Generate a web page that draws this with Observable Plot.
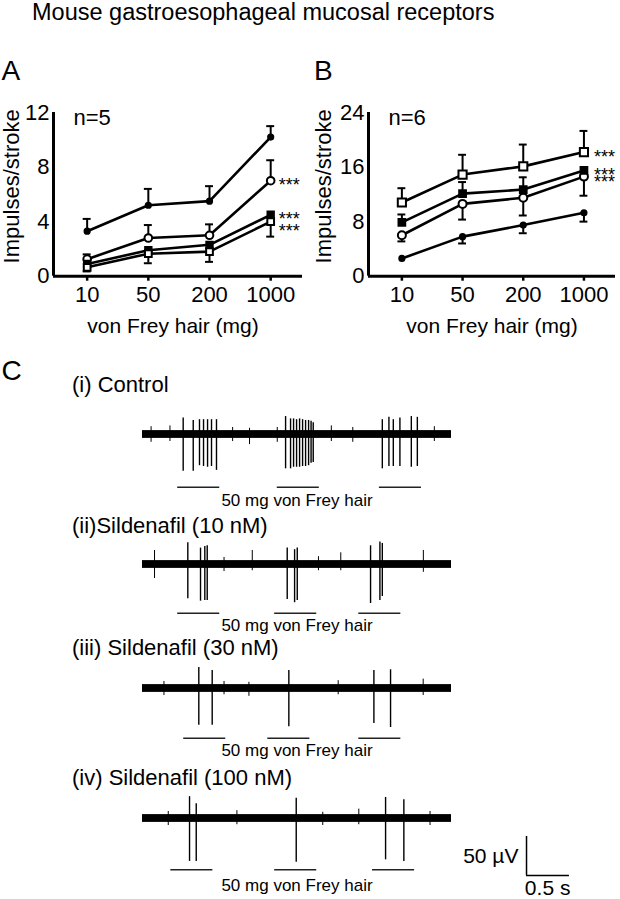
<!DOCTYPE html>
<html><head><meta charset="utf-8">
<script src="https://cdn.jsdelivr.net/npm/d3@7"></script>
<script src="https://cdn.jsdelivr.net/npm/@observablehq/plot@0.6"></script>
<style>
html,body{margin:0;padding:0;background:#fff;}
#fig{position:relative;width:620px;height:899px;overflow:hidden;background:#fff;font-family:"Liberation Sans",Arial,Helvetica,sans-serif;}
#fig > svg{position:absolute;overflow:visible;}
</style></head><body><div id="fig"></div>
<script>
// ---------- data ----------
const doses = ["10", "50", "200", "1000"];

// Panel A (n=5)
const aFilledCircle = [3.3, 5.2, 5.5, 10.2];
const aFilledCircleErr = [4.2, 6.4, 6.6, 11.0];
const aOpenCircle = [1.25, 2.8, 3.0, 7.0];
const aOpenCircleErr = [1.6, 3.75, 3.8, 8.5];
const aFilledSquare = [0.9, 1.9, 2.3, 4.5];
const aOpenSquare = [0.65, 1.65, 1.8, 4.0];
const aOpenSquareErr = [0.35, 0.95, 1.05, 2.9];

// Panel B (n=6)
const bOpenSquare = [10.8, 14.9, 16.1, 18.2];
const bOpenSquareErr = [12.9, 17.8, 19.3, 21.3];
const bFilledSquare = [7.9, 12.1, 12.7, 15.5];
const bFilledSquareErr = [9.05, 13.8, 14.5, 15.5];
const bOpenCircle = [6.0, 10.6, 11.5, 14.6];
const bOpenCircleErr = [5.1, 8.3, 8.9, 11.8];
const bFilledCircle = [2.6, 5.8, 7.5, 9.3];
const bFilledCircleErr = [2.6, 4.8, 6.3, 8.0];

const yTicksA = [0, 4, 8, 12];
const yTicksB = [0, 8, 16, 24];

// Panel C : spikes (time in s, trough and peak in µV)
const ctrlSpikeT  = [0.474, 0.591, 0.664, 0.711, 0.758, 0.804, 0.862, 1.667, 1.725, 1.760, 1.795, 1.830, 1.865, 1.900, 1.935, 1.964, 1.989, 2.794, 2.871, 2.922, 2.999, 3.132, 3.202];
const ctrlSpikeLo = [-47, -47, -40, -41, -42, -41, -46, -44, -44, -42, -42, -42, -41, -41, -40, -37, -36, -44, -41, -41, -41, -42, -41];
const ctrlSpikeHi = [21, 18, 19, 19, 19, 19, 19, 23, 20, 20, 19, 20, 19, 18, 18, 17, 15, 19, 22, 19, 21, 23, 22];
const ctrlNoiseT  = [0.10, 0.32, 1.05, 1.247, 1.57, 2.20, 2.45, 3.40];
const ctrlNoiseLo = [-10, -9, -9, -13, -10, -9, -10, -9];
const ctrlNoiseHi = [10, 11, 9, 8, 9, 11, 9, 10];
const ctrlStim = [0.41, 1.57, 2.76];

const s10SpikeT  = [0.528, 0.676, 0.726, 0.754, 1.686, 1.772, 1.803, 2.657, 2.766, 2.794];
const s10SpikeLo = [-44, -47, -46, -46, -45, -49, -46, -50, -46, -41];
const s10SpikeHi = [28, 21, 23, 24, 21, 19, 21, 24, 29, 27];
const s10NoiseT  = [0.14, 0.95, 1.279, 2.05, 2.31, 3.272];
const s10NoiseLo = [-18, -9, -8, -8, -8, -10];
const s10NoiseHi = [18, 9, 18, 10, 15, 18];
const s10Stim = [0.41, 1.54, 2.52];

const s30SpikeT  = [0.656, 0.812, 1.705, 2.696, 2.890];
const s30SpikeLo = [-47, -47, -49, -45, -50];
const s30SpikeHi = [27, 23, 23, 23, 24];
const s30NoiseT  = [0.25, 0.95, 1.24, 2.28, 3.27];
const s30NoiseLo = [-9, -8, -10, -8, -9];
const s30NoiseHi = [9, 9, 8, 10, 12];
const s30Stim = [0.48, 1.46, 2.52];

const s100SpikeT  = [0.548, 0.626, 1.791, 2.832, 3.045];
const s100SpikeLo = [-55, -55, -56, -53, -55];
const s100SpikeHi = [28, 19, 26, 27, 24];
const s100NoiseT  = [0.30, 1.10, 2.10, 2.52, 3.35];
const s100NoiseLo = [-9, -8, -9, -8, -9];
const s100NoiseHi = [9, 10, 8, 12, 9];
const s100Stim = [0.33, 1.54, 2.68];

const traceLabels = ["(i) Control", "(ii)Sildenafil (10 nM)", "(iii) Sildenafil (30 nM)", "(iv) Sildenafil (100 nM)"];
const stimText = "50 mg von Frey hair";
const recordDuration = 3.6;   // s
const stimDuration = 0.49;    // s

// ---------- drawing ----------
const FONT = '"Liberation Sans", Arial, Helvetica, sans-serif';
const fig = document.getElementById("fig");
function place(el, left, top) {
  el.style.position = "absolute";
  el.style.left = left + "px";
  el.style.top = top + "px";
  fig.appendChild(el);
}

const xDomain = [-0.55, 3.52];

function drawPanel(o) {
  const marks = [
    Plot.axisX({ticks: [0, 1, 2, 3], tickFormat: i => doses[i], tickSize: 5, tickPadding: 5, strokeWidth: 2.5, label: null, fontSize: 22}),
    Plot.axisY({ticks: o.yTicks, tickSize: 0, tickPadding: 4, label: null, fontSize: 22}),
    Plot.ruleY([0], {strokeWidth: 3}),
    Plot.ruleX([xDomain[0]], {y1: d => 0, y2: d => o.yMax, strokeWidth: 3})
  ];
  const rowsOf = s => s.values.map((v, i) => ({i, v, e: s.err ? s.err[i] : null}));
  for (const s of o.series) marks.push(Plot.line(rowsOf(s), {x: "i", y: "v", stroke: "black", strokeWidth: 2.6}));
  for (const s of o.series) {
    if (!s.err) continue;
    const rows = rowsOf(s).filter(d => d.e !== d.v);
    marks.push(Plot.ruleX(rows, {x: "i", y1: "v", y2: "e", strokeWidth: 2}));
    marks.push(Plot.ruleY(rows, {y: "e", x1: d => d.i - 0.065, x2: d => d.i + 0.065, strokeWidth: 2}));
  }
  for (const s of o.series) {
    marks.push(Plot.dot(rowsOf(s), {x: "i", y: "v", symbol: s.symbol, r: s.r, fill: s.fill, stroke: "black", strokeWidth: 2}));
  }
  for (const s of o.series) {
    if (!s.stars) continue;
    marks.push(Plot.text([{i: 3, v: s.values[3]}], {x: "i", y: "v", text: d => s.stars, textAnchor: "start", dx: o.starsDx, dy: s.starDy, fontSize: 18}));
  }
  marks.push(Plot.text([o.nLabel], {frameAnchor: "top-left", text: d => d, textAnchor: "start", lineAnchor: "top", dx: 20, dy: -3, fontSize: 22}));
  marks.push(Plot.text(["Impulses/stroke"], {frameAnchor: "left", text: d => d, rotate: -90, textAnchor: "middle", lineAnchor: "middle", dx: o.yLabelDx, dy: -8, fontSize: 22}));
  marks.push(Plot.text(["von Frey hair (mg)"], {frameAnchor: "bottom", text: d => d, textAnchor: "middle", lineAnchor: "middle", dx: o.xLabelDx, dy: 50.5, fontSize: 21}));
  const svg = Plot.plot({
    width: 310, height: 264,
    marginLeft: o.marginLeft, marginRight: o.marginRight, marginTop: 26, marginBottom: 74.3,
    x: {domain: xDomain, axis: null},
    y: {domain: [0, o.yMax], axis: null},
    style: {fontFamily: FONT, fontSize: "22px", background: "transparent", color: "black", overflow: "visible"},
    marks
  });
  place(svg, o.left, 86);
}

drawPanel({
  left: 0, marginLeft: 53, marginRight: 8, yMax: 12, yTicks: yTicksA, nLabel: "n=5",
  starsDx: 8, yLabelDx: -42, xLabelDx: -5,
  series: [
    {values: aFilledCircle, err: aFilledCircleErr, symbol: "circle", r: 2.6, fill: "black"},
    {values: aOpenCircle, err: aOpenCircleErr, symbol: "circle", r: 3.8, fill: "white", stars: "***", starDy: 5},
    {values: aFilledSquare, err: null, symbol: "square", r: 3.6, fill: "black", stars: "***", starDy: 4},
    {values: aOpenSquare, err: aOpenSquareErr, symbol: "square", r: 3.8, fill: "white", stars: "***", starDy: 10}
  ]
});
drawPanel({
  left: 310, marginLeft: 58, marginRight: 5, yMax: 24, yTicks: yTicksB, nLabel: "n=6",
  starsDx: 10, yLabelDx: -45, xLabelDx: 0,
  series: [
    {values: bFilledCircle, err: bFilledCircleErr, symbol: "circle", r: 2.6, fill: "black"},
    {values: bOpenCircle, err: bOpenCircleErr, symbol: "circle", r: 4, fill: "white", stars: "***", starDy: 6},
    {values: bFilledSquare, err: bFilledSquareErr, symbol: "square", r: 3.8, fill: "black", stars: "***", starDy: 5},
    {values: bOpenSquare, err: bOpenSquareErr, symbol: "square", r: 4.6, fill: "white", stars: "***", starDy: 5}
  ]
});

// ---------- traces ----------
const PX_PER_UV = 0.78;
function drawTrace(o) {
  const zip = (t, lo, hi) => t.map((v, k) => ({t: v, lo: lo[k], hi: hi[k]}));
  const spikes = zip(o.spikeT, o.spikeLo, o.spikeHi);
  const noise = zip(o.noiseT, o.noiseLo, o.noiseHi);
  const uv = px => -px / PX_PER_UV;
  const marks = [
    Plot.rect([{t1: 0, t2: recordDuration}], {x1: "t1", x2: "t2", y1: d => -5, y2: d => 5, fill: "black"}),
    Plot.ruleX(noise, {x: "t", y1: "lo", y2: "hi", strokeWidth: 1, stroke: "black"}),
    Plot.ruleX(spikes, {x: "t", y1: "lo", y2: "hi", strokeWidth: 1.4, stroke: "black"}),
    Plot.ruleY(o.stim, {y: d => uv(o.stimPx), x1: d => d, x2: d => d + stimDuration, strokeWidth: 1.4, stroke: "#222"}),
    Plot.text([stimText], {x: d => 1.8, y: d => uv(o.textPx - 0.32 * 17), text: d => d, fontSize: 17})
  ];
  if (o.scaleBar) {
    marks.push(
      Plot.ruleX([4.474], {y1: d => -73, y2: d => -23, strokeWidth: 1.5}),
      Plot.ruleY([-73], {x1: d => 4.474, x2: d => 4.474 + 0.5, strokeWidth: 1.5}),
      Plot.text(["50 µV"], {x: d => 4.38, y: d => -49, text: d => d, textAnchor: "end", fontSize: 21}),
      Plot.text(["0.5 s"], {x: d => 4.72, y: d => -89.5, text: d => d, fontSize: 21})
    );
  }
  const svg = Plot.plot({
    width: 620, height: 140, margin: 0,
    x: {domain: [0, recordDuration], range: [142, 451], axis: null},
    y: {domain: [-100, 75], range: [60 + 100 * PX_PER_UV, 60 - 75 * PX_PER_UV], axis: null},
    style: {fontFamily: FONT, background: "transparent", color: "black", overflow: "visible"},
    marks
  });
  place(svg, 0, o.baseline - 60);
}

drawTrace({spikeT: ctrlSpikeT, spikeLo: ctrlSpikeLo, spikeHi: ctrlSpikeHi, noiseT: ctrlNoiseT, noiseLo: ctrlNoiseLo, noiseHi: ctrlNoiseHi, stim: ctrlStim, baseline: 434, stimPx: 52.7, textPx: 71});
drawTrace({spikeT: s10SpikeT, spikeLo: s10SpikeLo, spikeHi: s10SpikeHi, noiseT: s10NoiseT, noiseLo: s10NoiseLo, noiseHi: s10NoiseHi, stim: s10Stim, baseline: 564, stimPx: 48.7, textPx: 66.7});
drawTrace({spikeT: s30SpikeT, spikeLo: s30SpikeLo, spikeHi: s30SpikeHi, noiseT: s30NoiseT, noiseLo: s30NoiseLo, noiseHi: s30NoiseHi, stim: s30Stim, baseline: 688, stimPx: 49.7, textPx: 67});
drawTrace({spikeT: s100SpikeT, spikeLo: s100SpikeLo, spikeHi: s100SpikeHi, noiseT: s100NoiseT, noiseLo: s100NoiseLo, noiseHi: s100NoiseHi, stim: s100Stim, baseline: 818, stimPx: 51.3, textPx: 72, scaleBar: true});

// ---------- titles and labels ----------
const overlay = d3.create("svg").attr("width", 620).attr("height", 899)
  .style("font-family", FONT).style("pointer-events", "none");
const labels = [
  {text: "Mouse gastroesophageal mucosal receptors", x: 32, y: 20, size: 23.5},
  {text: "A", x: 1.5, y: 80, size: 28},
  {text: "B", x: 314, y: 80, size: 28},
  {text: "C", x: 1.5, y: 380, size: 28},
  {text: traceLabels[0], x: 72, y: 392, size: 22},
  {text: traceLabels[1], x: 72, y: 533, size: 22},
  {text: traceLabels[2], x: 72, y: 655, size: 22},
  {text: traceLabels[3], x: 72, y: 785, size: 22}
];
overlay.selectAll("text").data(labels).join("text")
  .attr("x", d => d.x).attr("y", d => d.y).attr("font-size", d => d.size).attr("fill", "black")
  .text(d => d.text);
place(overlay.node(), 0, 0);
</script></body></html>
